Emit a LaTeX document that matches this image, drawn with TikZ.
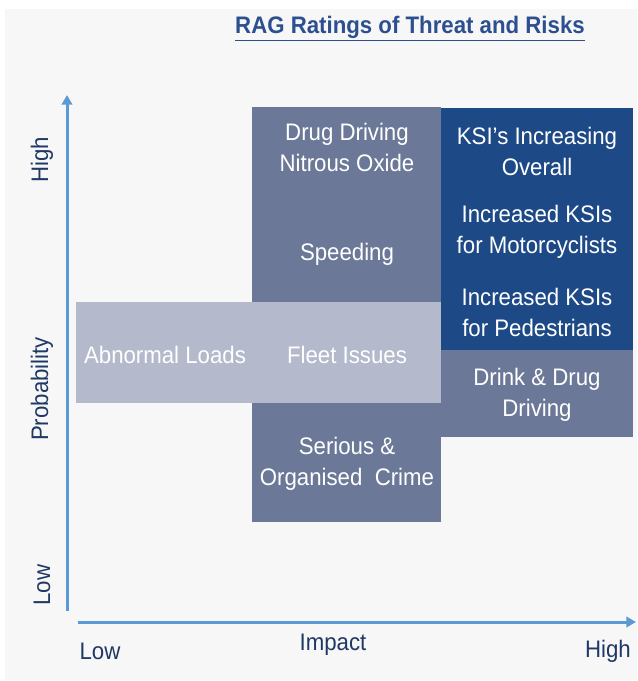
\documentclass[tikz,border=0pt]{standalone}
\usepackage{fontspec}
\setmainfont{Liberation Sans}[FakeStretch=0.93]
\usetikzlibrary{arrows.meta}

\definecolor{bggrey}{HTML}{F7F7F7}
\definecolor{midgrey}{HTML}{6B7897}
\definecolor{paleblue}{HTML}{B4BACC}
\definecolor{ksiblue}{HTML}{1D4A87}
\definecolor{axisblue}{HTML}{5B9BD5}
\definecolor{labelblue}{HTML}{1F3864}
\definecolor{titleblue}{HTML}{2B4F8F}

\begin{document}
\begin{tikzpicture}[x=0.25mm,y=-0.25mm,>={Triangle[width=2.6mm,length=2.4mm]},
	risk/.style={text=white,align=center,font=\fontsize{17}{22}\selectfont},
	axlbl/.style={text=labelblue,font=\fontsize{17}{22}\selectfont}]

\useasboundingbox (0,0) rectangle (637,681);
\fill[bggrey] (5,9) rectangle (637,680);

\node[text=titleblue,font=\fontsize{17}{20}\selectfont\bfseries] (title) at (410,29) {\underline{RAG Ratings of Threat and Risks}};

%%%%%%%%%%%%%%%%%%%%%%%%%%%%%%%%%%%%%%%%%%%%%%%%%%%%%%%%%%%%%%%%

\fill[midgrey]  (252,107) rectangle (441,522);
\fill[paleblue] (76,302)  rectangle (441,403);
\fill[midgrey]  (441,350) rectangle (633,437);
\fill[ksiblue]  (441,108) rectangle (633,350);

\node[risk] (drug)   at (347,147) {Drug Driving\\Nitrous Oxide};
\node[risk] (speed)  at (347,254) {Speeding};
\node[risk] (ksi)    at (537,151) {KSI’s Increasing\\Overall};
\node[risk] (motor)  at (537,232) {Increased KSIs\\for Motorcyclists};
\node[risk] (ped)    at (537,312) {Increased KSIs\\for Pedestrians};
\node[risk] (loads)  at (165,355) {Abnormal Loads};
\node[risk] (fleet)  at (347,355) {Fleet Issues};
\node[risk] (drink)  at (537,395) {Drink \& Drug\\Driving};
\node[risk] (crime)  at (347,464) {Serious \&\\Organised~ Crime};

%%%%%%%%%%%%%%%%%%%%%%%%%%%%%%%%%%%%%%%%%%%%%%%%%%%%%%%%%%%%%%%%

\coordinate (ylow)  at (67,611);
\coordinate (yhigh) at (67,95);
\coordinate (xlow)  at (78,622);
\coordinate (xhigh) at (636,622);

\draw[->,axisblue,line width=0.75mm] (ylow) -- (yhigh);
\draw[->,axisblue,line width=0.75mm] (xlow) -- (xhigh);

\node[axlbl,rotate=90] (phigh) at (42,160) {High};
\node[axlbl,rotate=90] (prob)  at (42,389) {Probability};
\node[axlbl,rotate=90] (plow)  at (42,585) {Low};

\node[axlbl] (ilow)  at (100,651) {Low};
\node[axlbl] (imp)   at (333,645) {Impact};
\node[axlbl] (ihigh) at (608,651) {High};

\end{tikzpicture}
\end{document}
